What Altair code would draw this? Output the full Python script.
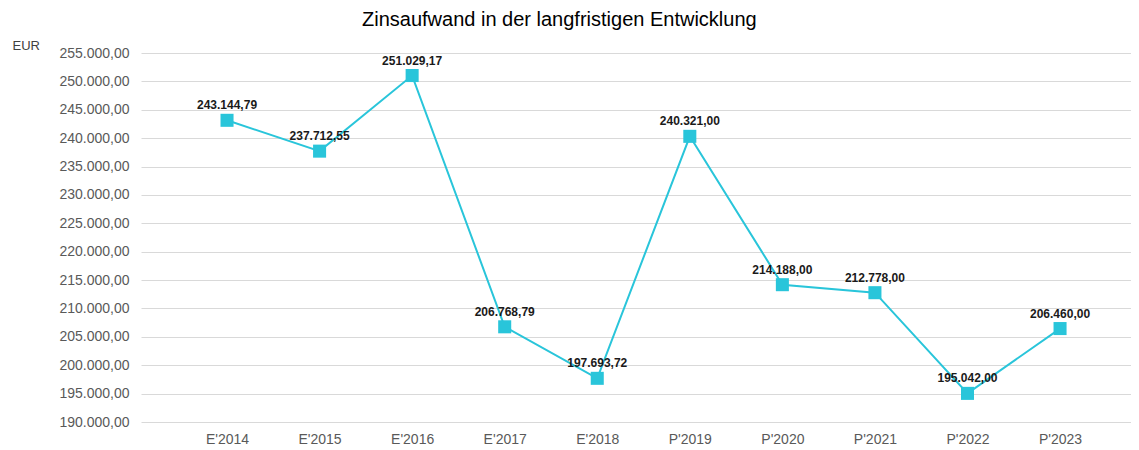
import altair as alt
import pandas as pd

categories = ["E'2014", "E'2015", "E'2016", "E'2017", "E'2018",
              "P'2019", "P'2020", "P'2021", "P'2022", "P'2023"]
values = [243144.79, 237712.55, 251029.17, 206768.79, 197693.72,
          240321.00, 214188.00, 212778.00, 195042.00, 206460.00]


def de_format(v):
    s = f"{v:,.2f}"
    return s.replace(",", "#").replace(".", ",").replace("#", ".")


df = pd.DataFrame({
    "Jahr": categories,
    "Wert": values,
    "Label": [de_format(v) for v in values],
})

COLOR = "#29C5DA"
label_expr = ("replace(replace(replace(format(datum.value, ',.2f'), ',', '#'), '.', ','), '#', '.')")

x = alt.X("Jahr:N", sort=categories, title=None,
          scale=alt.Scale(type="point", padding=0.848, align=0.548),
          axis=alt.Axis(labelAngle=0, labelFontSize=14, labelColor="#595959",
                        labelFont="Liberation Sans", ticks=False, domain=False,
                        labelPadding=10, grid=False))
y = alt.Y("Wert:Q", title="EUR",
          scale=alt.Scale(domain=[190000, 255000], nice=False, zero=False),
          axis=alt.Axis(values=list(range(190000, 255001, 5000)), labelExpr=label_expr,
                        labelFontSize=14, labelColor="#595959", labelFont="Liberation Sans",
                        ticks=False, domain=False, labelPadding=12,
                        gridColor="#D9D9D9", gridWidth=1,
                        titleAngle=0, titleX=-129, titleY=-8, titleAlign="left",
                        titleBaseline="middle", titleFontSize=13, titleFontWeight="normal",
                        titleColor="#404040", titleFont="Liberation Sans"))

base = alt.Chart(df).encode(x=x, y=y)

line = base.mark_line(color=COLOR, strokeWidth=2)
points = base.mark_point(shape="square", filled=True, size=170, color=COLOR, opacity=1)
labels = base.mark_text(dy=-15, fontSize=12, fontWeight="bold", color="#1a1a1a",
                        font="Liberation Sans", baseline="middle").encode(text="Label:N")

chart = (line + points + labels).properties(
    width=990, height=369,
    autosize=alt.AutoSizeParams(type="none"),
    padding={"left": 133, "top": 45, "right": 0, "bottom": 25},
    title=alt.TitleParams("Zinsaufwand in der langfristigen Entwicklung",
                          anchor="start", frame="group", dx=221, offset=9,
                          fontSize=20, fontWeight="normal", color="#000000",
                          font="Liberation Sans"),
).configure_view(stroke=None)

chart.save("out.html", embed_options={"renderer": "svg", "actions": False})
